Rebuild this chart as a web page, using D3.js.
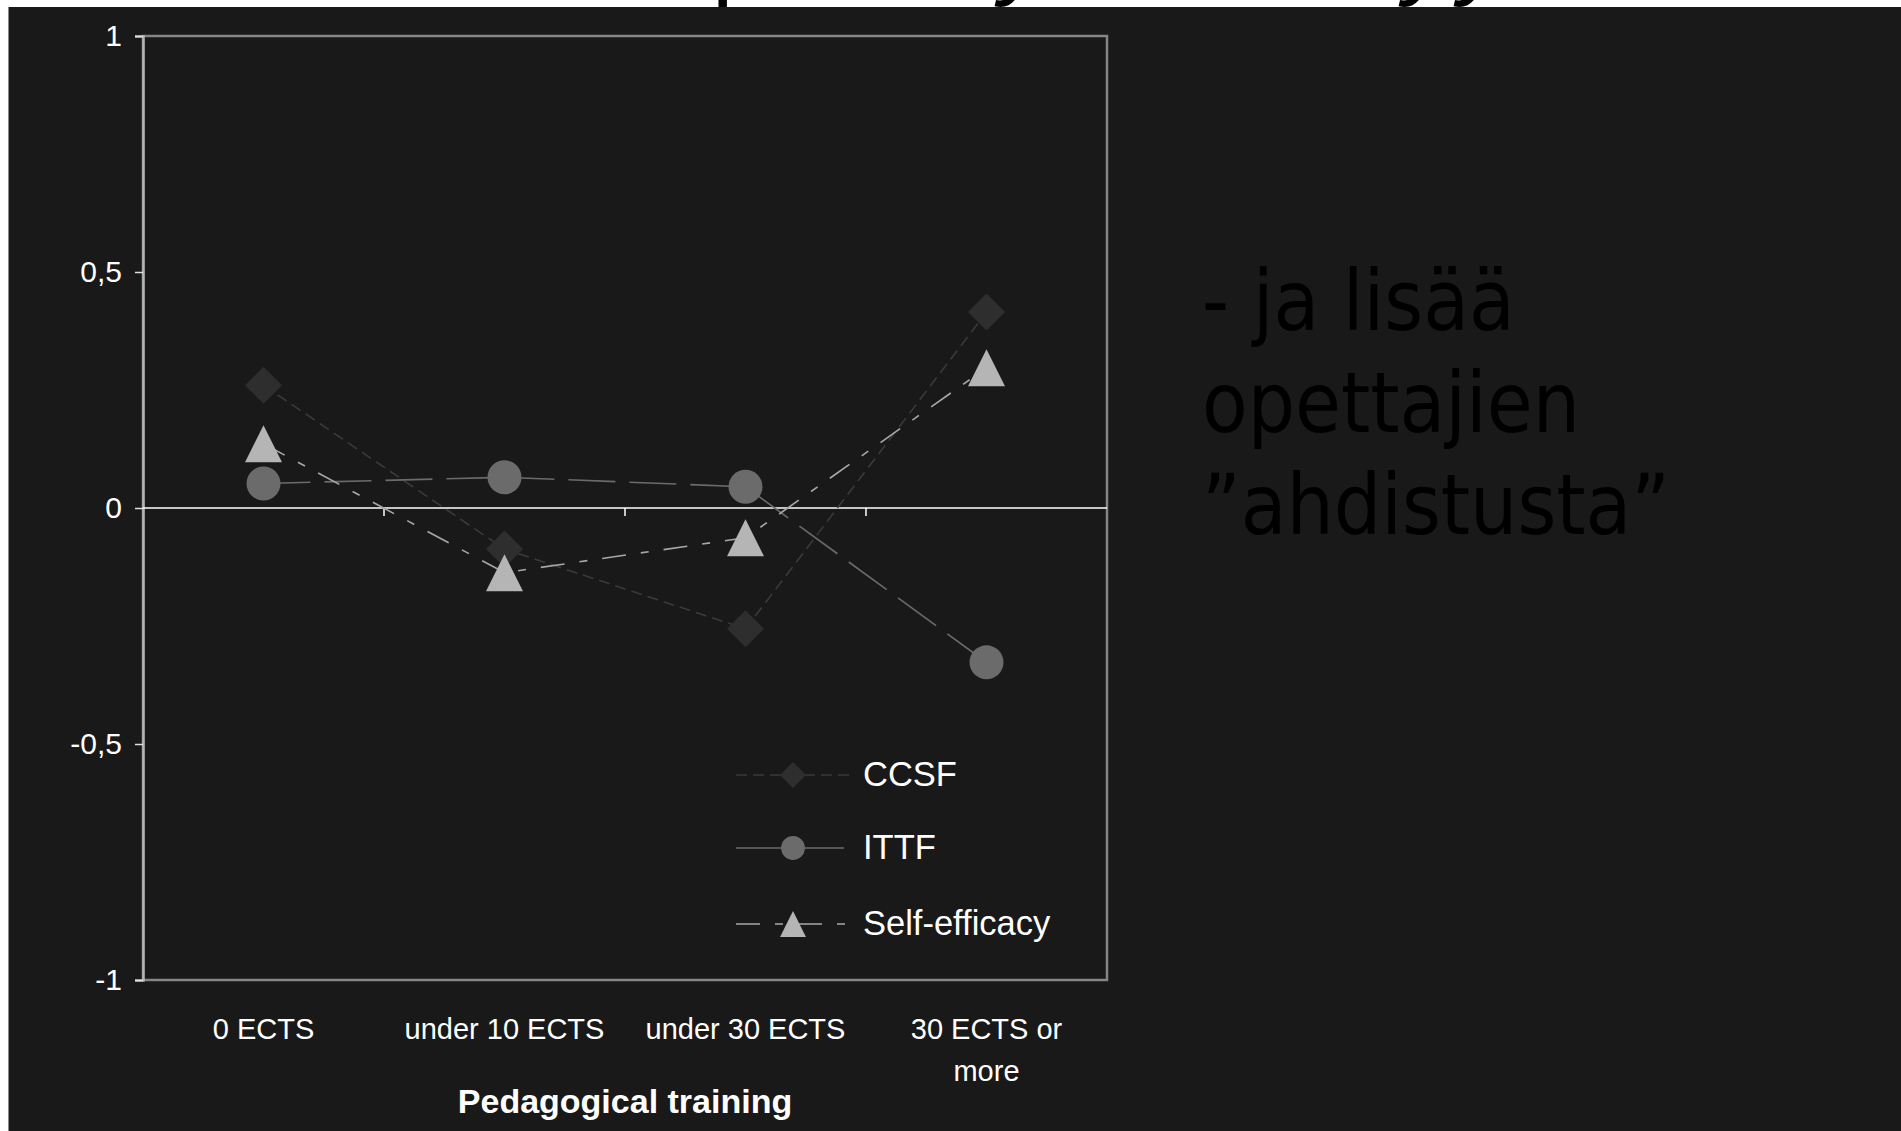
<!DOCTYPE html>
<html>
<head>
<meta charset="utf-8">
<script src="https://cdn.jsdelivr.net/npm/d3@7"></script>
<style>
  body { margin: 0; background: #fff; }
  svg { display: block; }
  text { font-family: "Liberation Sans", Arial, sans-serif; }
</style>
</head>
<body>
<svg id="chart" width="1901" height="1131"></svg>
<script>
const categories = ["0 ECTS", "under 10 ECTS", "under 30 ECTS", "30 ECTS or more"]
const ccsf = [0.26, -0.087, -0.256, 0.415]
const ittf = [0.052, 0.065, 0.045, -0.327]
const selfEfficacy = [0.136, -0.137, -0.063, 0.297]
const seriesNames = ["CCSF", "ITTF", "Self-efficacy"]
const yTicks = [-1, -0.5, 0, 0.5, 1]
const yTickLabels = ["-1", "-0,5", "0", "0,5", "1"]
const axisTitle = "Pedagogical training"
const noteLines = ["- ja lisää", "opettajien", "”ahdistusta”"]

const svg = d3.select("#chart")

// bits of the slide title that peek out above the dark panel
const titleBits = [{ t: "p", x: 712, it: false }, { t: "y", x: 1000, it: true }, { t: "y", x: 1404, it: true }, { t: "y", x: 1459, it: true }]
svg.selectAll(".titleBit")
  .data(titleBits)
  .enter()
  .append("text")
  .attr("x", d => d.x)
  .attr("y", -13)
  .attr("font-size", 96)
  .style("font-style", d => d.it ? "italic" : "normal")
  .attr("fill", "#000")
  .text(d => d.t)

svg.append("rect")
  .attr("x", 8.5).attr("y", 7)
  .attr("width", 1901).attr("height", 1131)
  .attr("fill", "#191919")

const plotLeft = 143, plotRight = 1107, plotTop = 36, plotBottom = 980

const x = d3.scaleBand().domain(categories).range([plotLeft, plotRight])
const y = d3.scaleLinear().domain([-1, 1]).range([plotBottom, plotTop])
const cx = c => x(c) + x.bandwidth() / 2

// plot frame
svg.append("rect")
  .attr("x", plotLeft).attr("y", plotTop)
  .attr("width", plotRight - plotLeft).attr("height", plotBottom - plotTop)
  .attr("fill", "none")
  .attr("stroke", "#858585")
  .attr("stroke-width", 2.5)

// y axis
const yAxis = svg.append("g")
  .attr("transform", `translate(${plotLeft},0)`)
  .call(d3.axisLeft(y)
    .tickValues(yTicks)
    .tickFormat((d, i) => yTickLabels[i])
    .tickSize(8)
    .tickPadding(13))
yAxis.select(".domain").attr("stroke", "#b5b5b5").attr("stroke-width", 2.5)
yAxis.selectAll(".tick line").attr("stroke", "#e0e0e0").attr("stroke-width", 1.5)
yAxis.selectAll(".tick text")
  .attr("fill", "#fff")
  .attr("font-size", 30)

// zero line with ticks between categories
svg.append("line")
  .attr("x1", plotLeft).attr("x2", plotRight)
  .attr("y1", y(0)).attr("y2", y(0))
  .attr("stroke", "#fff")
  .attr("stroke-width", 1.5)
svg.selectAll(".zeroTick")
  .data(categories.slice(1))
  .enter()
  .append("line")
  .attr("x1", d => x(d)).attr("x2", d => x(d))
  .attr("y1", y(0)).attr("y2", y(0) + 8)
  .attr("stroke", "#fff")
  .attr("stroke-width", 1.5)

// category labels
const wrapLabel = (sel, width) => {
  sel.each(function () {
    const t = d3.select(this)
    const words = t.text().split(" ")
    t.text(null)
    let line = []
    let tspan = t.append("tspan").attr("x", t.attr("x")).attr("dy", 0)
    words.forEach(w => {
      line.push(w)
      tspan.text(line.join(" "))
      if (tspan.node().getComputedTextLength() > width && line.length > 1) {
        line.pop()
        tspan.text(line.join(" "))
        line = [w]
        tspan = t.append("tspan").attr("x", t.attr("x")).attr("dy", 42).text(w)
      }
    })
  })
}

svg.selectAll(".catLabel")
  .data(categories)
  .enter()
  .append("text")
  .classed("catLabel", true)
  .attr("x", d => cx(d))
  .attr("y", 1039)
  .attr("text-anchor", "middle")
  .attr("font-size", 29)
  .attr("fill", "#fff")
  .text(d => d)
  .call(wrapLabel, 215)

svg.append("text")
  .attr("x", (plotLeft + plotRight) / 2)
  .attr("y", 1113)
  .attr("text-anchor", "middle")
  .attr("font-size", 34)
  .attr("font-weight", "bold")
  .attr("fill", "#fff")
  .text(axisTitle)

// series
const series = [
  { name: seriesNames[0], values: ccsf, fill: "#2e2e2e", stroke: "#3a3a3a", dash: "11,6", shape: "diamond" },
  { name: seriesNames[1], values: ittf, fill: "#6b6b6b", stroke: "#6b6b6b", dash: "47,14", shape: "circle" },
  { name: seriesNames[2], values: selfEfficacy, fill: "#b5b5b5", stroke: "#a8a8a8", dash: "24,15,8,15", shape: "triangle" }
]

const markerPath = (shape, s) => {
  if (shape === "diamond") {
    const r = 18.5 * s
    return `M0,${-r}L${r},0L0,${r}L${-r},0Z`
  }
  if (shape === "triangle") {
    const w = 37 * s, h = 37 * s
    return `M0,${-h / 2}L${w / 2},${h / 2}L${-w / 2},${h / 2}Z`
  }
  return d3.arc()({ innerRadius: 0, outerRadius: 17 * s, startAngle: 0, endAngle: 2 * Math.PI })
}

const line = d3.line()
  .x((d, i) => cx(categories[i]))
  .y(d => y(d))

series.forEach(s => {
  svg.append("path")
    .attr("d", line(s.values))
    .attr("fill", "none")
    .attr("stroke", s.stroke)
    .attr("stroke-width", 1.6)
    .attr("stroke-dasharray", s.dash)
})

series.forEach(s => {
  svg.selectAll(null)
    .data(s.values)
    .enter()
    .append("path")
    .attr("d", markerPath(s.shape, 1))
    .attr("transform", (d, i) => `translate(${cx(categories[i])},${y(d)})`)
    .attr("fill", s.fill)
})

// legend
const legendRows = [775, 848, 924]
const legend = svg.selectAll(".legendItem")
  .data(series)
  .enter()
  .append("g")
  .classed("legendItem", true)
  .attr("transform", (d, i) => `translate(736,${legendRows[i]})`)

legend.append("line")
  .attr("x1", 0).attr("x2", 116)
  .attr("y1", 0).attr("y2", 0)
  .attr("stroke", d => d.stroke)
  .attr("stroke-width", 1.6)
  .attr("stroke-dasharray", d => d.dash)
legend.append("path")
  .attr("transform", "translate(57,0)")
  .attr("d", d => markerPath(d.shape, 0.7))
  .attr("fill", d => d.fill)
legend.append("text")
  .attr("x", 127)
  .attr("y", 0)
  .attr("dy", "0.33em")
  .attr("font-size", 34.5)
  .attr("fill", "#fff")
  .text(d => d.name)

// note on the right
svg.selectAll(".note")
  .data(noteLines)
  .enter()
  .append("text")
  .classed("note", true)
  .attr("x", 1202)
  .attr("y", (d, i) => 330 + i * 102)
  .attr("font-size", 83)
  .style("font-family", "'DejaVu Sans Condensed', 'DejaVu Sans', sans-serif")
  .style("font-stretch", "condensed")
  .attr("fill", "#000")
  .text(d => d)
</script>
</body>
</html>
